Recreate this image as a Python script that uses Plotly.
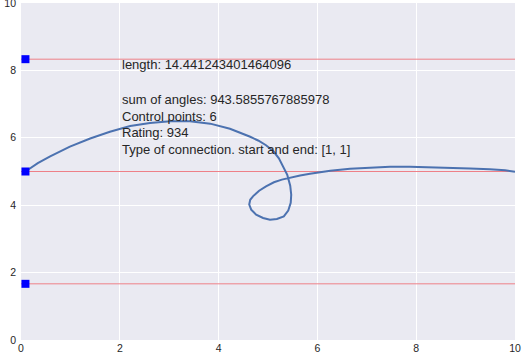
import plotly.graph_objects as go

# Curve
curve_x = [0.09, 0.34, 0.59, 0.99, 1.40, 1.80, 2.21, 2.61, 3.02, 3.42, 3.83, 4.23, 4.64,
           4.80, 4.96, 5.11, 5.22, 5.31, 5.39, 5.45, 5.47, 5.46, 5.41, 5.32, 5.18, 5.04,
           4.90, 4.76, 4.66, 4.62, 4.64, 4.70, 4.82, 4.96, 5.12, 5.28, 5.45, 5.65, 5.85,
           6.26, 6.66, 7.07, 7.47, 7.87, 8.28, 8.68, 9.09, 9.49, 9.80, 10.0]
curve_y = [5.00, 5.25, 5.45, 5.74, 5.98, 6.18, 6.35, 6.44, 6.49, 6.49, 6.42, 6.27, 6.03,
           5.92, 5.78, 5.60, 5.39, 5.15, 4.90, 4.58, 4.31, 4.07, 3.84, 3.67, 3.59, 3.57,
           3.62, 3.72, 3.87, 4.02, 4.16, 4.27, 4.43, 4.56, 4.68, 4.76, 4.82, 4.88, 4.93,
           5.02, 5.08, 5.11, 5.14, 5.14, 5.13, 5.11, 5.09, 5.07, 5.04, 4.99]

# Control levels (horizontal lines) and square markers
level_y = [8.333, 5.0, 1.667]
marker_x = [0.09, 0.09, 0.09]

tick_vals = [0, 2, 4, 6, 8, 10]
tick_text = ["0", "2", "4", "6", "8", "10"]

info_lines = [
    "length: 14.441243401464096",
    "sum of angles: 943.5855767885978",
    "Control points: 6",
    "Rating: 934",
    "Type of connection. start and end: [1, 1]",
]
info_y = [8.17, 7.14, 6.64, 6.155, 5.66]
info_x = 2.0

fig = go.Figure()

for ly in level_y:
    fig.add_trace(go.Scatter(x=[0, 10], y=[ly, ly], mode="lines",
                             line=dict(color="#EE8088", width=1),
                             hoverinfo="skip", showlegend=False))

fig.add_trace(go.Scatter(x=curve_x, y=curve_y, mode="lines",
                         line=dict(color="#4C72B0", width=2, shape="linear"),
                         showlegend=False))

fig.add_trace(go.Scatter(x=marker_x, y=level_y, mode="markers",
                         marker=dict(symbol="square", color="#0000FF", size=8,
                                     line=dict(width=0)),
                         showlegend=False))

for txt, yy in zip(info_lines, info_y):
    fig.add_annotation(x=info_x, y=yy, text=txt, showarrow=False,
                       xanchor="left", yanchor="middle",
                       font=dict(family="Liberation Sans, Arial, sans-serif", size=13, color="#262626"))

axis_common = dict(range=[0, 10], tickvals=tick_vals, ticktext=tick_text,
                   showgrid=True, gridcolor="white", gridwidth=1, zeroline=False,
                   showline=False, ticks="", automargin=False,
                   ticklabeloverflow="allow",
                   tickfont=dict(family="Liberation Sans, Arial, sans-serif", size=10.5, color="#262626"))

fig.update_layout(
    width=522, height=358,
    margin=dict(l=21, r=7, t=3, b=18),
    paper_bgcolor="white",
    plot_bgcolor="#EAEAF2",
    xaxis=axis_common,
    yaxis=axis_common,
    showlegend=False,
)
fig.update_xaxes(ticklabelstandoff=0)
fig.update_yaxes(ticklabelstandoff=4)

fig.write_html("out.html", config={"displayModeBar": False},
               post_script="document.body.style.margin='0';document.body.style.overflow='hidden';")
